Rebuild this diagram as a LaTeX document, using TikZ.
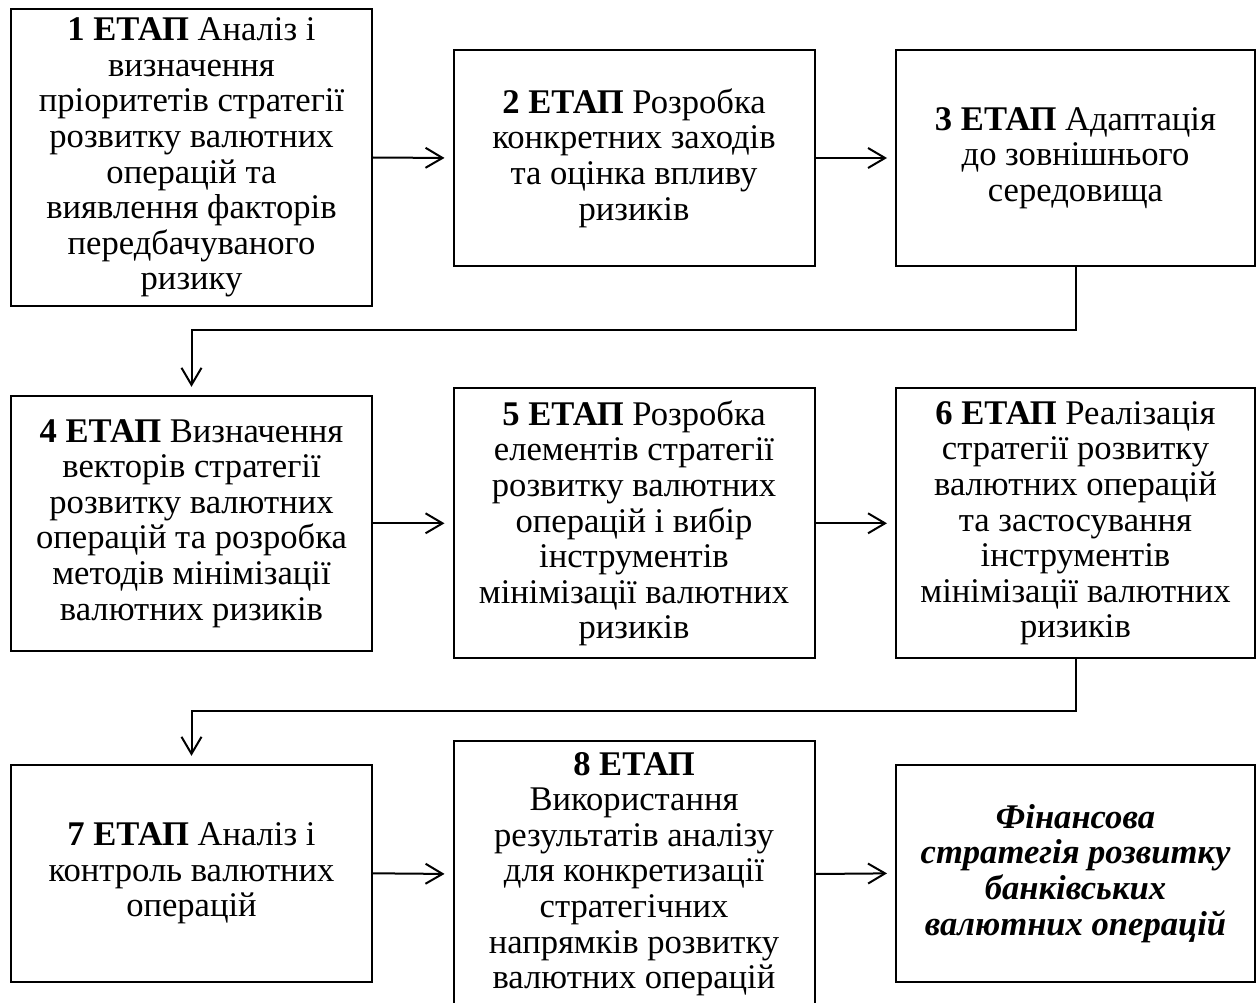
\documentclass[tikz,border=0pt]{standalone}
\usepackage{fontspec}
\setmainfont{Liberation Serif}
\usetikzlibrary{arrows.meta}
\begin{document}
\begin{tikzpicture}[x=1pt,y=-1pt,
  stagebox/.style={draw=black,line width=2pt,fill=white,inner sep=0pt,
    align=center,font=\fontsize{34.6}{35.6}\selectfont},
  flow/.style={line width=2pt,-{Straight Barb[length=17pt,width=20pt,line width=2pt]},shorten >=8pt}]
\useasboundingbox (0,0) rectangle (1256,1003);
% row 1
\node[stagebox,minimum width=361pt,minimum height=297pt] (s1) at (191.5,157.5)
  {\textbf{1 ЕТАП} Аналіз і\\визначення\\пріоритетів стратегії\\розвитку валютних\\операцій та\\виявлення факторів\\передбачуваного\\ризику};
\node[stagebox,minimum width=361pt,minimum height=216pt] (s2) at (634,158)
  {\textbf{2 ЕТАП} Розробка\\конкретних заходів\\та оцінка впливу\\ризиків};
\node[stagebox,minimum width=359pt,minimum height=216pt] (s3) at (1075.5,158)
  {\textbf{3 ЕТАП} Адаптація\\до зовнішнього\\середовища};
% row 2
\node[stagebox,minimum width=361pt,minimum height=255pt] (s4) at (191.5,523.3)
  {\textbf{4 ЕТАП} Визначення\\векторів стратегії\\розвитку валютних\\операцій та розробка\\методів мінімізації\\валютних ризиків};
\node[stagebox,minimum width=361pt,minimum height=270pt] (s5) at (634,523.3)
  {\textbf{5 ЕТАП} Розробка\\елементів стратегії\\розвитку валютних\\операцій і вибір\\інструментів\\мінімізації валютних\\ризиків};
\node[stagebox,minimum width=359pt,minimum height=270pt] (s6) at (1075.5,523.3)
  {\textbf{6 ЕТАП} Реалізація\\стратегії розвитку\\валютних операцій\\та застосування\\інструментів\\мінімізації валютних\\ризиків};
% row 3
\node[stagebox,minimum width=361pt,minimum height=217pt] (s7) at (191.5,873.3)
  {\textbf{7 ЕТАП} Аналіз і\\контроль валютних\\операцій};
\node[stagebox,minimum width=361pt,minimum height=266pt] (s8) at (634,874)
  {\textbf{8 ЕТАП}\\Використання\\результатів аналізу\\для конкретизації\\стратегічних\\напрямків розвитку\\валютних операцій};
\node[stagebox,minimum width=359pt,minimum height=217pt,
  font=\fontsize{34.6}{35.6}\selectfont\bfseries\itshape] (s9) at (1075.5,873.3)
  {Фінансова\\стратегія розвитку\\банківських\\валютних операцій};
% connectors
\draw[flow] (s1.east) -- (s2.west);
\draw[flow] (s2.east) -- (s3.west);
\draw[flow] (s4.east) -- (s5.west);
\draw[flow] (s5.east) -- (s6.west);
\draw[flow] (s7.east) -- (s8.west);
\draw[flow] (s8.east) -- (s9.west);
\coordinate (c1a) at (s3.south |- 0,330);
\coordinate (c1b) at (s4.north |- 0,330);
\draw[flow] (s3.south) -- (c1a) -- (c1b) -- (s4.north);
\coordinate (c2a) at (s6.south |- 0,711);
\coordinate (c2b) at (s7.north |- 0,711);
\draw[flow] (s6.south) -- (c2a) -- (c2b) -- (s7.north);
\end{tikzpicture}
\end{document}
